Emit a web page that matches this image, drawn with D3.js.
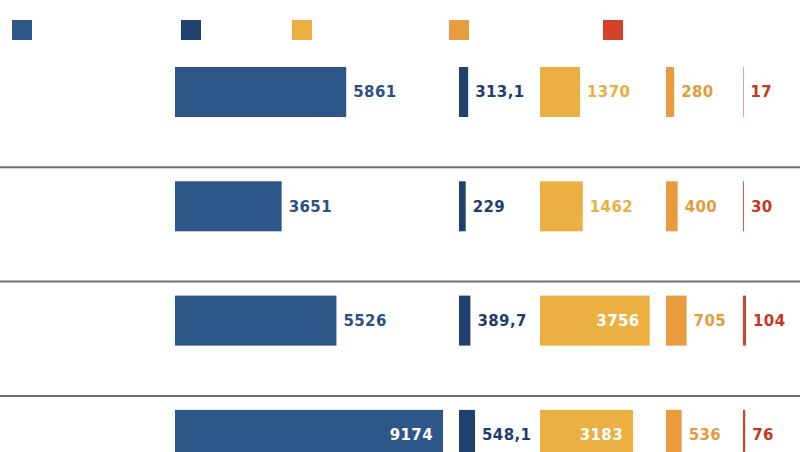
<!DOCTYPE html>
<html>
<head>
<meta charset="utf-8">
<script src="https://cdn.jsdelivr.net/npm/d3@7"></script>
<style>
  html, body { margin: 0; padding: 0; background: #fff; }
  svg { display: block; }
</style>
</head>
<body>
<svg id="chart" width="800" height="452"></svg>
<script>
// ---- data ----
const categories = ["Row 1", "Row 2", "Row 3", "Row 4"];
const seriesNames = ["S1", "S2", "S3", "S4", "S5"];
const s1 = [5861, 3651, 5526, 9174];
const s2 = [313.1, 229, 389.7, 548.1];
const s3 = [1370, 1462, 3756, 3183];
const s4 = [280, 400, 705, 536];
const s5 = [17, 30, 104, 76];
const labels1 = ["5861", "3651", "5526", "9174"];
const labels2 = ["313,1", "229", "389,7", "548,1"];
const labels3 = ["1370", "1462", "3756", "3183"];
const labels4 = ["280", "400", "705", "536"];
const labels5 = ["17", "30", "104", "76"];

const seriesValues = [s1, s2, s3, s4, s5];
const seriesLabels = [labels1, labels2, labels3, labels4, labels5];

// ---- styling / layout ----
const barColors = ["#2d5689", "#1f416f", "#ecb042", "#e89c3d", "#d4402a"];
const textColors = ["#2c5183", "#1f3d6b", "#eaae42", "#e49b40", "#c9361f"];
const colStart = [175, 459, 540, 666, 743];
const legendX = [12, 181, 292, 449, 603];
const W = 800, H = 452;

const svg = d3.select("#chart");

const x = d3.scaleLinear().domain([0, 9174]).range([0, 268]);
const y = d3.scaleBand().domain(categories).range([53, 53 + 4 * 114.3]).paddingInner(0);
const barOffset = 14, barH = 50;

// legend squares
svg.append("g").selectAll("rect")
  .data(seriesNames)
  .join("rect")
  .attr("x", (d, i) => legendX[i])
  .attr("y", 20)
  .attr("width", 20)
  .attr("height", 20)
  .attr("fill", (d, i) => barColors[i]);

// separators
svg.append("g").selectAll("line")
  .data(categories.slice(1))
  .join("line")
  .attr("x1", 0).attr("x2", W)
  .attr("y1", d => y(d)).attr("y2", d => y(d))
  .attr("stroke", "#6f6f6f")
  .attr("stroke-width", 2);

// bars + labels
seriesValues.forEach((vals, si) => {
  const g = svg.append("g");
  const nextStart = si < colStart.length - 1 ? colStart[si + 1] : W;
  categories.forEach((c, ri) => {
    const v = vals[ri];
    const bx = colStart[si];
    const bw = x(v);
    const by = y(c) + barOffset;
    g.append("rect")
      .attr("x", bx).attr("y", by)
      .attr("width", bw).attr("height", barH)
      .attr("fill", barColors[si]);
    const t = g.append("text")
      .text(seriesLabels[si][ri])
      .attr("y", by + barH / 2)
      .attr("dy", "0.36em")
      .attr("font-family", "DejaVu Sans, sans-serif")
      .attr("font-weight", "bold")
      .attr("font-size", 15)
      .attr("letter-spacing", 0.4);
    const tw = t.node().getComputedTextLength();
    const gap = 7;
    if (bx + bw + gap + tw > nextStart - 4) {
      t.attr("x", bx + bw - 10).attr("text-anchor", "end").attr("fill", "#ffffff");
    } else {
      t.attr("x", bx + bw + gap).attr("text-anchor", "start").attr("fill", textColors[si]);
    }
  });
});
</script>
</body>
</html>
